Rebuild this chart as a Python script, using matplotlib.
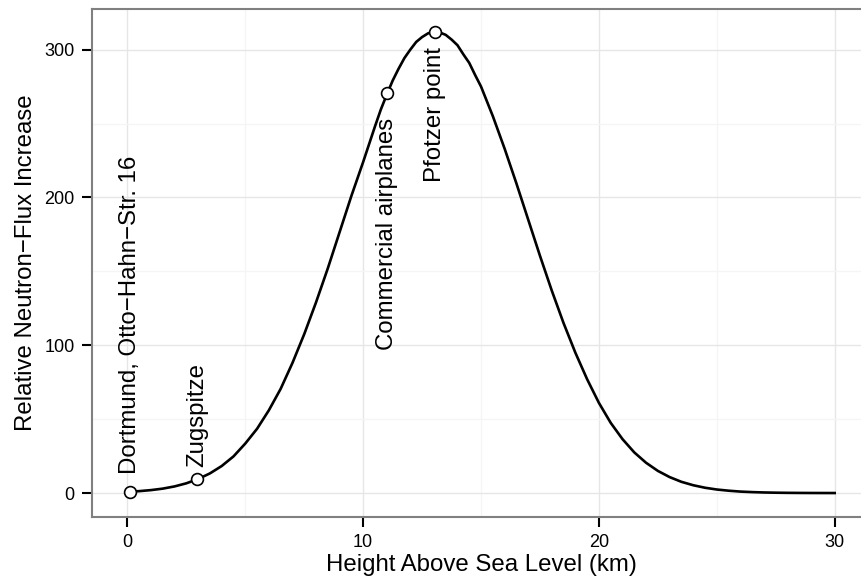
import matplotlib.pyplot as plt

plt.rcParams['font.family'] = ['Liberation Sans', 'DejaVu Sans']

# neutron flux profile vs altitude
height_km = [0, 0.5, 1, 1.5, 2, 2.5, 3, 3.5, 4, 4.5, 5, 5.5, 6, 6.5, 7, 7.5,
             8, 8.5, 9, 9.5, 10, 10.25, 10.5, 10.75, 11, 11.25, 11.5, 11.75,
             12, 12.25, 12.5, 12.75, 13, 13.25, 13.5, 13.75, 14, 14.25, 14.5,
             14.75, 15, 15.25, 15.5, 15.75, 16, 16.5, 17, 17.5, 18, 18.5, 19,
             19.5, 20, 20.5, 21, 21.5, 22, 22.5, 23, 23.5, 24, 24.5, 25, 25.5,
             26, 26.5, 27, 27.5, 28, 28.5, 29, 29.5, 30]
flux = [0.9, 1.3, 2.0, 3.0, 4.5, 6.6, 9.5, 13.3, 18.3, 24.8, 33.5, 43.5, 56,
        70.5, 88, 107.5, 129, 152, 176.5, 201, 224, 236, 248, 259.5, 269.5,
        279, 287, 294.3, 300, 305.2, 308.5, 311, 312, 311.6, 310, 306.8, 303,
        296.8, 291, 282.8, 275, 265, 255, 244, 233, 209.5, 185, 160.5, 137,
        115, 95, 77, 61, 47.5, 36.5, 27.5, 20.5, 15, 10.8, 7.6, 5.3, 3.6, 2.4,
        1.6, 1.0, 0.65, 0.4, 0.25, 0.15, 0.09, 0.05, 0.03, 0.02]

# labelled places
place_names = ['Dortmund, Otto\u2212Hahn\u2212Str. 16', 'Zugspitze',
               'Commercial airplanes', 'Pfotzer point']
place_height = [0.13, 2.96, 11.0, 13.03]
place_flux = [0.9, 9.5, 270.5, 312]
label_above = [True, True, False, False]
label_offset = [13, 9, -18, -11]

fig = plt.figure(figsize=(8.61, 5.83), dpi=100)
ax = fig.add_axes([0.1069, 0.1137, 0.9036, 0.8709])

ax.plot(height_km, flux, color='black', lw=1.9, zorder=3,
        solid_joinstyle='round')
ax.plot(place_height, place_flux, 'o', ms=8.5, mfc='white', mec='black',
        mew=1.2, zorder=4)

for name, x, y, above, off in zip(place_names, place_height, place_flux,
                                  label_above, label_offset):
    ax.annotate(name, (x, y), xytext=(0, off), textcoords='offset points',
                rotation=90, ha='center', va='bottom' if above else 'top',
                fontsize=17.3, zorder=5)

ax.set_xlim(-1.5, 31.5)
ax.set_ylim(-16, 327.5)
ax.set_xticks([0, 10, 20, 30])
ax.set_yticks([0, 100, 200, 300])
ax.set_xticks([5, 15, 25], minor=True)
ax.set_yticks([50, 150, 250], minor=True)

ax.grid(which='major', color='#e6e6e6', lw=1.0)
ax.grid(which='minor', color='#f5f5f5', lw=1.0)
ax.set_axisbelow(True)
ax.tick_params(which='major', length=7.5, width=1.5, color='black',
               labelsize=13, pad=5)
ax.tick_params(which='minor', length=0)

for side in ['left', 'bottom', 'top']:
    ax.spines[side].set_color('#808080')
    ax.spines[side].set_linewidth(1.5)
ax.spines['right'].set_visible(False)

ax.set_xlabel('Height Above Sea Level (km)', fontsize=17.3, labelpad=2)
ax.set_ylabel('Relative Neutron\u2212Flux Increase', fontsize=17.3, labelpad=5)

fig.savefig('out.png', dpi=100)
